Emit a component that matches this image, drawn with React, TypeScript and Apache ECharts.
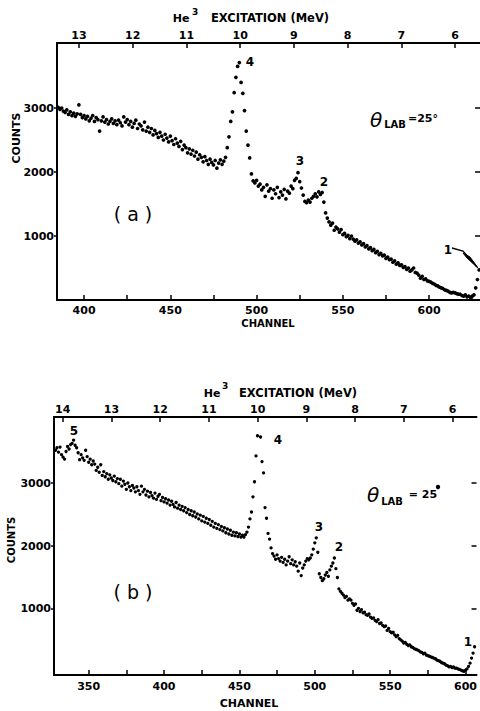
import React, { useEffect, useRef } from "react";
import * as echarts from "echarts";

// ---------- DATA ----------
// Panel (a): counts per channel, starting at channel 384
const startChannelA = 384;
const countsA: (number | null)[] = [
  3200, 3010, 2980, 3000, 2950, 2930, 2970, 2900, 2940, 2880,
  2920, 2870, 2910, 3050, 2900, 2850, 2880, 2830, 2870, 2800,
  2840, 2880, 2790, 2850, 2820, 2640, 2800, 2860, 2780, 2820,
  2750, 2790, 2830, 2760, 2800, 2740, 2810, 2770, 2720, 2860,
  2780, 2820, 2740, 2790, 2700, 2760, 2810, 2680, 2750, 2720,
  2660, 2780, 2640, 2700, 2620, 2680, 2580, 2650, 2600, 2540,
  2620, 2560, 2500, 2590, 2530, 2470, 2560, 2490, 2430, 2520,
  2450, 2400, 2480, 2350, 2420, 2380, 2300, 2360, 2280, 2340,
  2250, 2310, 2200, 2270, 2230, 2160, 2240, 2180, 2120, 2200,
  2150, 2110, 2180, 2060, 2140, 2190, 2120, 2170, 2230, 2380,
  2550, 2790, 2940, 3240, 3480, 3650, 3710, 3400, 3230, 2960,
  2640, 2420, 2220, 1970, 1860, 1830, 1870, 1780, 1810, 1720,
  1760, 1620, 1800, 1700, 1740, 1590, 1720, 1660, 1760, 1600,
  1690, 1640, 1730, 1580, 1700, 1670, 1780, 1740, 1870, 1900,
  1990, 1850, 1750, 1640, 1540, 1520, 1560, 1530, 1590, 1620,
  1660, 1610, 1690, 1650, 1680, 1530, 1360, 1280, 1220, 1170,
  1200, 1090, 1140, 1110, 1060, 1100, 1020, 1040, 990, 1010,
  960, 1000, 950, 920, 940, 890, 910, 860, 880, 830,
  850, 800, 820, 770, 790, 740, 760, 710, 730, 690,
  700, 650, 670, 630, 640, 590, 610, 560, 580, 540,
  550, 510, 520, 480, 500, 450, 470, 500, 430, 420,
  390, 340, 370, 320, 330, 300, 290, 280, 260, 250,
  230, 220, 200, 190, 180, 160, 150, 140, 120, 110,
  120, 110, 100, 90, 90, 70, 60, 80, 50, 60,
  40, 60, 80, 190, 320, 470,
];

// Panel (b): counts per channel, starting at channel 328
const startChannelB = 328;
const countsB: (number | null)[] = [
  3520, 3560, 3490, 3570, 3450, 3410, 3380, 3500, 3580, 3540,
  3610, 3630, 3680, 3600, 3560, 3480, 3370, 3450, 3400, 3360,
  3520, 3420, 3330, 3380, 3290, 3350, 3300, 3200, 3250, 3170,
  3290, 3120, 3180, 3100, 3150, 3060, 3130, 3080, 3040, 3110,
  3020, 3070, 2990, 3060, 2950, 3030, 2980, 2900, 3000, 2940,
  2880, 2960, 2920, 2860, 2940, 2880, 2820, 2950, 2860, 2900,
  2810, 2870, 2780, 2850, 2800, 2760, 2840, 2740, 2790, 2820,
  2720, 2770, 2700, 2750, 2680, 2730, 2650, 2710, 2660, 2620,
  2690, 2600, 2650, 2580, 2630, 2560, 2610, 2530, 2580, 2500,
  2560, 2480, 2540, 2460, 2510, 2430, 2490, 2400, 2470, 2380,
  2440, 2360, 2420, 2330, 2390, 2300, 2360, 2280, 2340, 2260,
  2310, 2240, 2290, 2210, 2270, 2190, 2250, 2170, 2220, 2160,
  2210, 2150, 2190, 2140, 2170, 2140, 2180, 2220, 2300, 2430,
  2540, 2780, 3020, 3430, 3750, null, 3730, 3340, 3160, 2610,
  2440, 2200, 2110, 1970, 1880, 1840, 1790, 1860, 1800, 1760,
  1820, 1740, 1790, 1700, 1760, 1830, 1720, 1780, 1700, 1750,
  1680, 1600, 1730, 1530, 1650, 1700, 1760, 1800, 1780, 1810,
  1860, 1950, 2050, 2130, 1900, 1560, 1500, 1450, 1480, 1540,
  1580, 1520, 1620, 1680, 1730, 1810, 1640, 1500, 1320, 1280,
  1250, 1220, 1180, 1200, 1140, 1160, 1140, 1090, 1060, 1080,
  980, 1010, 960, 990, 940, 950, 910, 900, 920, 870,
  850, 860, 820, 800, 830, 770, 780, 740, 720, 730,
  660, 690, 640, 620, 630, 590, 560, 580, 530, 510,
  490, 460, 470, 440, 420, 430, 400, 390, 370, 360,
  350, 340, 320, 310, 290, 300, 270, 260, 250, 240,
  230, 220, 210, 190, 180, 170, 150, 140, 130, 110,
  100, 80, 90, 70, 80, 60, 60, 50, 40, 30,
  20, 10, 30, 50, 90, 140, 220, 300, 400,
];

// Tick labels
const channelLabelsA = [400, 450, 500, 550, 600];
const channelTicksA = [400, 425, 450, 475, 500, 525, 550, 575, 600, 625];
const channelLabelsB = [350, 400, 450, 500, 550, 600];
const channelTicksB = [350, 375, 400, 425, 450, 475, 500, 525, 550, 575, 600];
const countTicks = [1000, 2000, 3000];
const excitationTicksA = [6, 7, 8, 9, 10, 11, 12, 13];
const excitationTicksB = [6, 7, 8, 9, 10, 11, 12, 13, 14];

const INK = "#000";
const FONT = "DejaVu Sans";

function toPoints(start: number, counts: (number | null)[]) {
  const pts: number[][] = [];
  counts.forEach((c, i) => {
    if (c !== null) pts.push([start + i, c]);
  });
  return pts;
}

function axisLabelStyle(extra: any) {
  return {
    fontFamily: FONT,
    fontWeight: "bold",
    fontSize: 11,
    color: INK,
    formatter: (v: number) => String(v),
    ...extra,
  };
}

function txt(x: number, y: number, text: string, font: string, extra: any = {}) {
  return {
    type: "text",
    x,
    y,
    style: {
      text,
      font,
      fill: INK,
      textAlign: "center",
      align: "center",
      textVerticalAlign: "middle",
      verticalAlign: "middle",
      ...extra,
    },
  };
}

export default function App() {
  const ref = useRef<HTMLDivElement>(null);

  useEffect(() => {
    if (!ref.current) return;
    const chart = echarts.init(ref.current, null, { renderer: "svg" });

    const bottomAxis = (grid: number, min: number, max: number, labels: number[], ticks: number[], margin: number) => ({
      type: "value",
      gridIndex: grid,
      position: "bottom",
      min,
      max,
      axisLine: { show: true, onZero: false, lineStyle: { color: INK, width: 2 } },
      axisTick: { show: true, inside: true, length: 5, customValues: ticks, lineStyle: { color: INK, width: 1.5 } },
      axisLabel: axisLabelStyle({ customValues: labels, margin }),
      splitLine: { show: false },
    });

    const topAxis = (grid: number, min: number, max: number, ticks: number[]) => ({
      type: "value",
      gridIndex: grid,
      position: "top",
      inverse: true,
      min,
      max,
      axisLine: { show: true, onZero: false, lineStyle: { color: INK, width: 2 } },
      axisTick: { show: true, inside: true, length: 5, customValues: ticks, lineStyle: { color: INK, width: 1.5 } },
      axisLabel: axisLabelStyle({ customValues: ticks, margin: 2 }),
      splitLine: { show: false },
    });

    const leftAxis = (grid: number, min: number, max: number) => ({
      type: "value",
      gridIndex: grid,
      position: "left",
      min,
      max,
      axisLine: { show: true, onZero: false, lineStyle: { color: INK, width: 2 } },
      axisTick: { show: true, inside: false, length: 3, customValues: countTicks, lineStyle: { color: INK, width: 1.5 } },
      axisLabel: axisLabelStyle({ customValues: countTicks, margin: 3 }),
      splitLine: { show: false },
    });

    const rightAxis = (grid: number, min: number, max: number) => ({
      type: "value",
      gridIndex: grid,
      position: "right",
      min,
      max,
      axisLine: { show: false },
      axisTick: { show: true, inside: true, length: 5, customValues: countTicks, lineStyle: { color: INK, width: 1.5 } },
      axisLabel: { show: false },
      splitLine: { show: false },
    });

    const option: any = {
      animation: false,
      backgroundColor: "#fff",
      grid: [
        { left: 57, top: 43, width: 423, height: 257 },
        { left: 54, top: 417, width: 426, height: 258 },
      ],
      xAxis: [
        bottomAxis(0, 384.3, 629.5, channelLabelsA, channelTicksA, 5),
        topAxis(0, 5.535, 13.41, excitationTicksA),
        bottomAxis(1, 327, 607.3, channelLabelsB, channelTicksB, 6),
        topAxis(1, 5.51, 14.18, excitationTicksB),
      ],
      yAxis: [
        leftAxis(0, 0, 4016),
        rightAxis(0, 0, 4016),
        leftAxis(1, -48, 4048),
        rightAxis(1, -48, 4048),
      ],
      series: [
        {
          type: "scatter",
          xAxisIndex: 0,
          yAxisIndex: 0,
          symbol: "circle",
          symbolSize: 3.7,
          itemStyle: { color: INK, opacity: 1 },
          data: toPoints(startChannelA, countsA),
        },
        {
          type: "scatter",
          xAxisIndex: 2,
          yAxisIndex: 2,
          symbol: "circle",
          symbolSize: 3.3,
          itemStyle: { color: INK, opacity: 1 },
          data: toPoints(startChannelB, countsB),
        },
      ],
      graphic: {
        elements: [
          // Panel (a) titles
          txt(181, 18, "He", `bold 11px ${FONT}`),
          txt(195, 12, "3", `bold 9px ${FONT}`),
          txt(270, 18, "EXCITATION (MeV)", `bold 11.5px ${FONT}`),
          txt(268, 323, "CHANNEL", `bold 10px ${FONT}`),
          { ...txt(16, 138, "COUNTS", `bold 11px ${FONT}`), rotation: Math.PI / 2 },
          txt(133, 214, "( a )", `19px ${FONT}`),
          txt(376, 120, "θ", `italic 20px ${FONT}`),
          txt(395, 124, "LAB", `bold 10px ${FONT}`),
          txt(423, 118, "=25°", `bold 11px ${FONT}`),
          txt(250, 62, "4", `bold 12px ${FONT}`),
          txt(300, 161, "3", `bold 12px ${FONT}`),
          txt(324, 182, "2", `bold 12px ${FONT}`),
          txt(448, 250, "1", `bold 12px ${FONT}`),
          {
            type: "polyline",
            shape: { points: [[452, 248], [463, 251], [477, 267]] },
            style: { stroke: INK, lineWidth: 1.3, fill: "none" },
          },
          {
            type: "polygon",
            shape: { points: [[463, 253], [470, 257], [478, 268], [467, 258]] },
            style: { fill: INK, stroke: INK, lineWidth: 1 },
          },
          // Panel (b) titles
          txt(212, 393, "He", `bold 11px ${FONT}`),
          txt(225, 386, "3", `bold 9px ${FONT}`),
          txt(298, 393, "EXCITATION (MeV)", `bold 11.5px ${FONT}`),
          txt(249, 703, "CHANNEL", `bold 11px ${FONT}`),
          { ...txt(11, 540, "COUNTS", `bold 10px ${FONT}`), rotation: Math.PI / 2 },
          txt(133, 592, "( b )", `19px ${FONT}`),
          txt(373, 495, "θ", `italic 20px ${FONT}`),
          txt(392, 501, "LAB", `bold 10px ${FONT}`),
          txt(423, 494, "= 25", `bold 11px ${FONT}`),
          { type: "circle", shape: { cx: 438, cy: 487, r: 2.2 }, style: { fill: INK } },
          txt(74, 431, "5", `bold 12px ${FONT}`),
          txt(278, 440, "4", `bold 12px ${FONT}`),
          txt(319, 527, "3", `bold 12px ${FONT}`),
          txt(339, 547, "2", `bold 12px ${FONT}`),
          txt(468, 642, "1", `bold 12px ${FONT}`),
        ],
      },
    };

    chart.setOption(option);
    return () => chart.dispose();
  }, []);

  return (
    <div
      ref={ref}
      style={{ position: "absolute", left: 0, top: 0, width: 480, height: 711, background: "#fff" }}
    />
  );
}
